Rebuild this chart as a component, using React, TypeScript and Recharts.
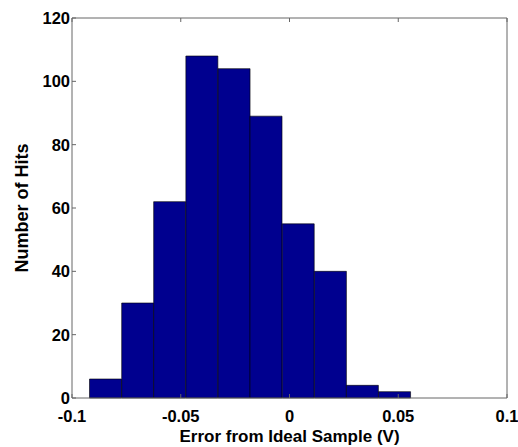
import { Bar, BarChart, XAxis, YAxis } from "recharts";

// bin centres (V) and counts, 10 bins from about -0.092 to 0.0556
const binCenters = [-0.0846, -0.0698, -0.0551, -0.0403, -0.0255, -0.0108, 0.004, 0.0188, 0.0335, 0.0483];
const hits = [6, 30, 62, 108, 104, 89, 55, 40, 4, 2];
const xTicks = [-0.1, -0.05, 0, 0.05, 0.1];
const yTicks = [0, 20, 40, 60, 80, 100, 120];

const data = binCenters.map((c, i) => ({ center: c, hits: hits[i] }));

const tickFont = { fontFamily: "Liberation Sans, Arial, sans-serif", fontWeight: "bold", fontSize: 16.5, fill: "#000" };
const labelFont = { fontFamily: "Liberation Sans, Arial, sans-serif", fontWeight: "bold", fontSize: 17, fill: "#000" };

export default function App() {
  return (
    <div style={{ position: "fixed", left: 0, top: 0, width: 518, height: 447, background: "#fff", overflow: "hidden" }}>
      <BarChart
        width={518}
        height={447}
        data={data}
        margin={{ top: 17, right: 10, left: 0, bottom: 0 }}
        barCategoryGap={0}
        barGap={0}
      >
        <XAxis
          xAxisId="b"
          dataKey="center"
          type="number"
          domain={[-0.1, 0.1]}
          ticks={xTicks}
          interval={0}
          tickFormatter={(v) => String(v)}
          allowDataOverflow
          height={49}
          stroke="#666"
          tickSize={-4}
          tickMargin={16}
          tick={tickFont}
          label={{ value: "Error from Ideal Sample (V)", position: "insideBottom", offset: 5, style: labelFont }}
        />
        <XAxis
          xAxisId="t"
          dataKey="center"
          type="number"
          orientation="top"
          domain={[-0.1, 0.1]}
          ticks={xTicks}
          interval={0}
          height={1}
          stroke="#666"
          tickSize={-4}
          tickFormatter={() => ""}
        />
        <YAxis
          yAxisId="l"
          domain={[0, 120]}
          ticks={yTicks}
          interval={0}
          width={72}
          stroke="#666"
          tickSize={-4}
          tickMargin={6}
          tick={tickFont}
          label={{ value: "Number of Hits", angle: -90, position: "insideLeft", offset: 22, style: { ...labelFont, fontSize: 18, textAnchor: "middle" } }}
        />
        <YAxis
          yAxisId="r"
          orientation="right"
          domain={[0, 120]}
          ticks={yTicks}
          interval={0}
          width={1}
          stroke="#666"
          tickSize={-4}
          tickFormatter={() => ""}
        />
        <Bar
          xAxisId="b"
          yAxisId="l"
          dataKey="hits"
          fill="#00008f"
          stroke="#000"
          strokeWidth={0.6}
          isAnimationActive={false}
        />
      </BarChart>
    </div>
  );
}
